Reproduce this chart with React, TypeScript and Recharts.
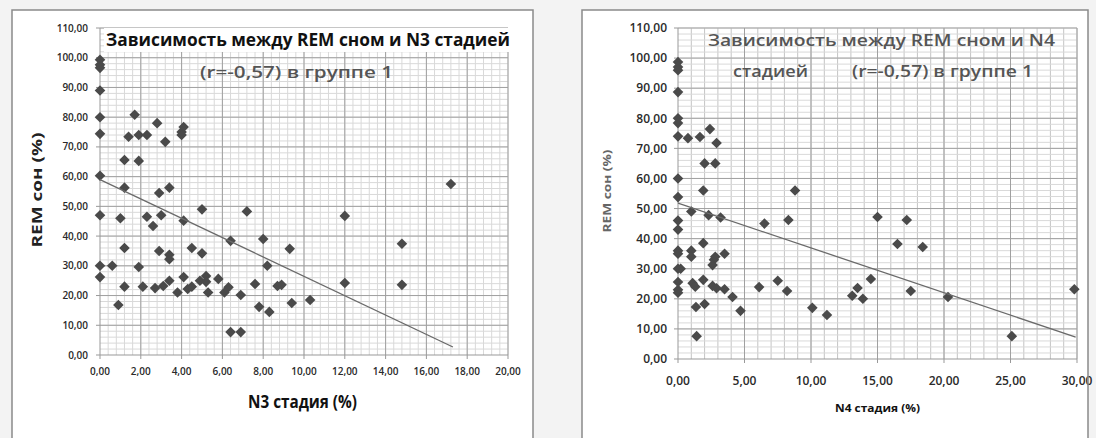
import React from "react";
import { ScatterChart, Scatter, XAxis, YAxis, ReferenceLine } from "recharts";

// ---------- Data: left chart (N3 stage vs REM sleep) ----------
const leftN3 = [
  0, 0, 0, 0, 0, 0, 0,
  1.7, 1.4, 1.9, 2.3, 2.8, 3.2, 1.2, 1.9, 1.2, 2.9, 3.4, 4.0, 4.1, 4.0,
  17.2, 12.0,
  0, 1.0, 2.3, 2.6, 3.0, 4.1, 5.0, 7.2,
  1.2, 2.9, 3.4, 3.4, 4.5, 5.0, 6.4, 8.0,
  0, 0.6, 1.9, 0, 1.2, 2.1, 2.7, 3.1, 3.4, 3.8, 4.1, 4.3, 4.5, 4.9, 5.2, 5.2, 5.3, 5.8, 6.1, 6.3, 6.4, 6.9, 6.9, 7.6, 7.8, 8.3, 8.2, 8.7, 0.9,
  9.3, 8.9, 9.4, 10.3, 12.0, 14.8, 14.8,
];
const leftRem = [
  99.3, 97.6, 96.6, 89, 80, 74.4, 60.3,
  80.8, 73.4, 74, 74, 78, 71.7, 65.6, 65.3, 56.3, 54.5, 56.3, 75, 76.7, 74,
  57.5, 46.8,
  47, 46, 46.5, 43.4, 47, 45.2, 49, 48.3,
  36, 35, 33.7, 32.2, 36, 34.2, 38.4, 39,
  30, 30, 29.6, 26.2, 23, 23, 22.5, 23.2, 25, 21, 26.2, 22.2, 23, 25, 26.6, 24.6, 21, 25.6, 21, 22.8, 7.7, 7.7, 20.2, 23.9, 16.2, 14.5, 30, 23.2, 16.8,
  35.7, 23.6, 17.5, 18.5, 24.2, 37.4, 23.6,
];
const leftTrendX = [0, 17.3];
const leftTrendY = [59, 2.7];
const leftXTicks = [0, 2, 4, 6, 8, 10, 12, 14, 16, 18, 20];

// ---------- Data: right chart (N4 stage vs REM sleep) ----------
const rightN4 = [
  0, 0, 0, 0, 0, 0, 0,
  0.75, 1.65, 2.4, 2.9, 2.0, 2.8, 1.9, 0, 0, 8.8,
  1.0, 2.3, 3.2, 6.5, 8.3, 0, 0, 0, 0, 1.0, 1.0, 1.9, 2.7, 2.8, 2.6, 3.5,
  0.2, 0, 0, 0, 0, 1.1, 1.3, 1.9, 2.6, 2.9, 3.5, 4.1, 4.7, 2.0, 1.35, 1.4, 6.1, 7.5, 8.2, 10.1, 11.2,
  13.1, 13.5, 13.9, 14.5, 15.0, 17.2, 16.5, 18.4, 17.5, 20.3, 25.1, 29.8,
];
const rightRem = [
  98.7, 97, 96, 88.7, 80, 78.4, 74,
  73.4, 73.8, 76.4, 71.8, 65, 65, 56, 60, 53.8, 56,
  49, 47.8, 47, 45, 46.2, 46, 43, 36, 35, 36, 34, 38.5, 33, 34, 31.2, 35,
  30, 30, 25.6, 23, 22, 25.2, 24, 26.3, 24.3, 23.5, 23.2, 20.6, 16, 18.3, 17.3, 7.6, 23.9, 26, 22.6, 17, 14.6,
  21, 23.6, 20, 26.6, 47.2, 46.2, 38.2, 37.2, 22.6, 20.6, 7.6, 23.2,
];
const rightTrendX = [0, 29.9];
const rightTrendY = [51.8, 7.3];
const rightXTicks = [0, 5, 10, 15, 20, 25, 30];

const yTicks = [0, 10, 20, 30, 40, 50, 60, 70, 80, 90, 100, 110];

// ---------- helpers ----------
const zip = (xs: number[], ys: number[]) => xs.map((x, i) => ({ x, y: ys[i] }));
const range = (from: number, to: number, step: number) => {
  const out: number[] = [];
  for (let v = from; v <= to + 1e-9; v += step) out.push(Math.round(v * 1000) / 1000);
  return out;
};
const fmt = (v: number) => v.toFixed(2).replace(".", ",");

const leftPoints = zip(leftN3, leftRem);
const leftTrend = zip(leftTrendX, leftTrendY);
const rightPoints = zip(rightN4, rightRem);
const rightTrend = zip(rightTrendX, rightTrendY);

const leftMinorX = range(0.4, 20, 0.4);
const rightMinorX = range(1, 30, 1);
const minorY = range(2, 110, 2);

const FONT = "'Open Sans', 'Noto Sans', sans-serif";
const MAJOR = "#a0a0a0";
const MINOR = "#d9d9d9";

const Diamond = (props: any) => {
  const { cx, cy } = props;
  if (cx == null || cy == null) return <g />;
  const r = 5.3;
  return (
    <polygon
      points={`${cx},${cy - r} ${cx + r},${cy} ${cx},${cy + r} ${cx - r},${cy}`}
      fill="#4a4a4a"
    />
  );
};
const NoShape = () => <g />;

export default function App() {
  return (
    <div
      style={{
        position: "absolute",
        left: 0,
        top: 0,
        width: 1096,
        height: 438,
        background: "#f3f3f3",
        overflow: "hidden",
        fontFamily: FONT,
      }}
    >
      {/* chart boxes */}
      <div style={{ position: "absolute", left: 12, top: 10, width: 521, height: 440, background: "#fff" }} />
      <div style={{ position: "absolute", left: 582, top: 10, width: 506, height: 440, background: "#fff" }} />

      {/* Left chart */}
      <div style={{ position: "absolute", left: 0, top: 0 }}>
        <ScatterChart width={540} height={438} margin={{ top: 28, right: 32, bottom: 53, left: 40 }}>
          <XAxis
            type="number"
            dataKey="x"
            domain={[0, 20]}
            ticks={leftXTicks}
            tickFormatter={fmt}
            stroke="#999"
            tickSize={4}
            tickMargin={9}
            tick={{ fontSize: 10, fontWeight: 600, fill: "#2a2a2a", fontFamily: FONT }}
          />
          <YAxis
            type="number"
            dataKey="y"
            domain={[0, 110]}
            ticks={yTicks}
            tickFormatter={fmt}
            stroke="#999"
            width={60}
            tickSize={4}
            tickMargin={8}
            tick={{ fontSize: 10, fontWeight: 600, fill: "#2a2a2a", fontFamily: FONT }}
          />
          {leftMinorX.map((v) => (
            <ReferenceLine key={"lmx" + v} x={v} stroke={MINOR} strokeWidth={1} />
          ))}
          {minorY.map((v) => (
            <ReferenceLine key={"lmy" + v} y={v} stroke={MINOR} strokeWidth={1} />
          ))}
          {leftXTicks.slice(1).map((v) => (
            <ReferenceLine key={"lx" + v} x={v} stroke={MAJOR} strokeWidth={1} />
          ))}
          {yTicks.slice(1).map((v) => (
            <ReferenceLine key={"ly" + v} y={v} stroke={MAJOR} strokeWidth={1} />
          ))}
          <Scatter data={leftPoints} shape={Diamond} isAnimationActive={false} />
          <Scatter
            data={leftTrend}
            shape={NoShape}
            line={{ stroke: "#6a6a6a", strokeWidth: 1.3 }}
            isAnimationActive={false}
          />
        </ScatterChart>
      </div>

      {/* Right chart */}
      <div style={{ position: "absolute", left: 560, top: 0 }}>
        <ScatterChart width={536} height={438} margin={{ top: 28, right: 19, bottom: 49, left: 58 }}>
          <XAxis
            type="number"
            dataKey="x"
            domain={[0, 30]}
            ticks={rightXTicks}
            tickFormatter={fmt}
            stroke="#999"
            tickSize={4}
            tickMargin={13}
            tick={{ fontSize: 12, fontWeight: 600, fill: "#2a2a2a", fontFamily: FONT }}
          />
          <YAxis
            type="number"
            dataKey="y"
            domain={[0, 110]}
            ticks={yTicks}
            tickFormatter={fmt}
            stroke="#999"
            width={60}
            tickSize={4}
            tickMargin={7}
            tick={{ fontSize: 12, fontWeight: 600, fill: "#2a2a2a", fontFamily: FONT }}
          />
          {rightMinorX.map((v) => (
            <ReferenceLine key={"rmx" + v} x={v} stroke="#c4c4c4" strokeWidth={1} />
          ))}
          {minorY.map((v) => (
            <ReferenceLine key={"rmy" + v} y={v} stroke={MINOR} strokeWidth={1} />
          ))}
          {rightXTicks.slice(1).map((v) => (
            <ReferenceLine key={"rx" + v} x={v} stroke={MAJOR} strokeWidth={1} />
          ))}
          {yTicks.slice(1).map((v) => (
            <ReferenceLine key={"ry" + v} y={v} stroke={MAJOR} strokeWidth={1} />
          ))}
          <Scatter data={rightPoints} shape={Diamond} isAnimationActive={false} />
          <Scatter
            data={rightTrend}
            shape={NoShape}
            line={{ stroke: "#6a6a6a", strokeWidth: 1.3 }}
            isAnimationActive={false}
          />
        </ScatterChart>
      </div>

      {/* Titles, axis labels and borders */}
      <svg
        width={1096}
        height={438}
        style={{ position: "absolute", left: 0, top: 0, pointerEvents: "none" }}
        fontFamily={FONT}
      >
        <rect x={12} y={10} width={521} height={440} fill="none" stroke="#8a8a8a" strokeWidth={1.5} />
        <rect x={582} y={10} width={506} height={440} fill="none" stroke="#8a8a8a" strokeWidth={1.5} />

        <rect x={104} y={28} width={410} height={24} fill="#fff" />
        <text x={106} y={46} fontSize={17} fontWeight={700} fill="#111" textLength={404} lengthAdjust="spacingAndGlyphs">
          Зависимость между REM сном и N3 стадией
        </text>
        <text x={200} y={78} fontSize={16} fontWeight={600} fill="#555" textLength={193} lengthAdjust="spacingAndGlyphs">
          (r=-0,57) в группе 1
        </text>
        <text
          x={0}
          y={0}
          fontSize={15}
          fontWeight={700}
          fill="#222"
          textAnchor="middle"
          transform="translate(42 190) rotate(-90)"
          textLength={115}
          lengthAdjust="spacingAndGlyphs"
        >
          REM сон (%)
        </text>
        <text x={248} y={408} fontSize={17} fontWeight={700} fill="#111" textLength={109} lengthAdjust="spacingAndGlyphs">
          N3 стадия (%)
        </text>

        <text x={708} y={46} fontSize={17} fontWeight={600} fill="#555" textLength={347} lengthAdjust="spacingAndGlyphs">
          Зависимость между REM сном и N4
        </text>
        <text x={733} y={77} fontSize={17} fontWeight={600} fill="#555" textLength={75} lengthAdjust="spacingAndGlyphs">
          стадией
        </text>
        <text x={852} y={77} fontSize={17} fontWeight={600} fill="#555" textLength={181} lengthAdjust="spacingAndGlyphs">
          (r=-0,57) в группе 1
        </text>
        <text
          x={0}
          y={0}
          fontSize={10.5}
          fontWeight={700}
          fill="#666"
          textAnchor="middle"
          transform="translate(611 191) rotate(-90)"
          textLength={83}
          lengthAdjust="spacingAndGlyphs"
        >
          REM сон (%)
        </text>
        <text x={835} y={412} fontSize={11} fontWeight={700} fill="#111" textLength={85} lengthAdjust="spacingAndGlyphs">
          N4 стадия (%)
        </text>
      </svg>
    </div>
  );
}
